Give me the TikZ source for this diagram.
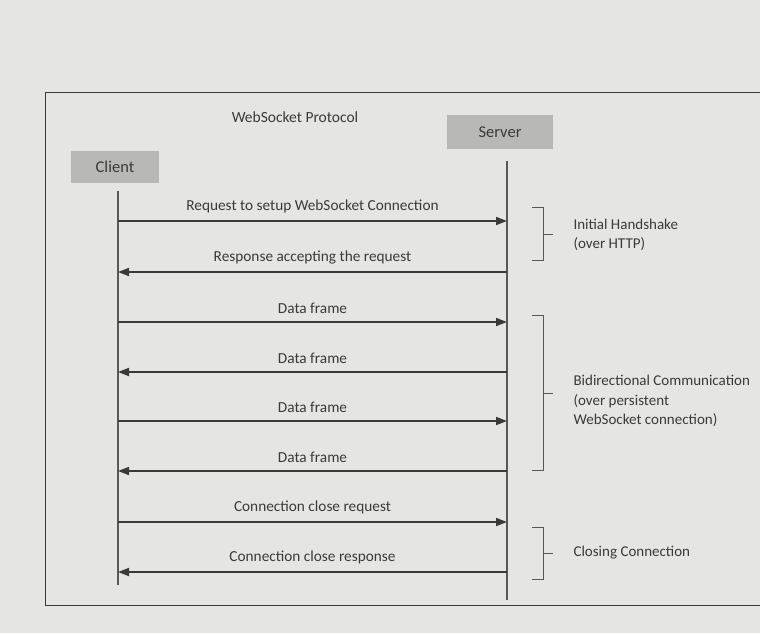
\documentclass[tikz,border=0pt]{standalone}
\usepackage{fontspec}
\setmainfont{Carlito}
\usepackage{xcolor}
\usepackage{tikz}
\usetikzlibrary{arrows.meta,positioning,calc}
\definecolor{paper}{RGB}{229,229,226}
\definecolor{ink}{RGB}{58,58,58}
\definecolor{boxgray}{RGB}{184,184,182}

\begin{document}
\begin{tikzpicture}[x=1pt, y=-1pt, every node/.style={font=\fontsize{15.3}{19}\selectfont, text=ink}, actor/.style={fill=boxgray, minimum width=88pt, minimum height=32pt, font=\fontsize{16.5}{19}\selectfont}, life/.style={draw=ink!85, line width=1.2pt}, msg/.style={-{Triangle[length=11pt,width=8pt]}, draw=ink, line width=1.7pt}, lbl/.style={above=4pt}, bracket/.style={draw=ink!85, line width=1pt}, note/.style={anchor=west, align=left, font=\fontsize{15}{19.5}\selectfont}]
\useasboundingbox (0,0) rectangle (760,633);
\fill[paper] (0,0) rectangle (760,633);
\draw[ink, line width=1pt] (760,92) -- (45,92) -- (45,605) -- (760,605);
\node[font=\fontsize{15.5}{19}\selectfont] (title) at (295,117) {WebSocket Protocol};
\node[actor] (client) at (115,167) {Client};
\node[actor, minimum width=106pt, minimum height=34pt] (server) at (500,132) {Server};
\coordinate (cend) at (118,585);
\coordinate (send) at (507,600);
\draw[life] (client.south -| cend) ++(0,8) coordinate (ctop) -- (cend);
\draw[life] (server.south -| send) ++(0,12) coordinate (stop) -- (send);
% messages
\coordinate (c1) at (118,221); \coordinate (s1) at (507,221);
\coordinate (c2) at (118,272); \coordinate (s2) at (507,272);
\coordinate (c3) at (118,322); \coordinate (s3) at (507,322);
\coordinate (c4) at (118,372); \coordinate (s4) at (507,372);
\coordinate (c5) at (118,421); \coordinate (s5) at (507,421);
\coordinate (c6) at (118,471); \coordinate (s6) at (507,471);
\coordinate (c7) at (118,522); \coordinate (s7) at (507,522);
\coordinate (c8) at (118,572); \coordinate (s8) at (507,572);
\draw[msg] (c1) -- node[lbl] (m1) {Request to setup WebSocket Connection} (s1);
\draw[msg] (s2) -- node[lbl] (m2) {Response accepting the request} (c2);
\draw[msg] (c3) -- node[lbl] (m3) {Data frame} (s3);
\draw[msg] (s4) -- node[lbl] (m4) {Data frame} (c4);
\draw[msg] (c5) -- node[lbl] (m5) {Data frame} (s5);
\draw[msg] (s6) -- node[lbl] (m6) {Data frame} (c6);
\draw[msg] (c7) -- node[lbl] (m7) {Connection close request} (s7);
\draw[msg] (s8) -- node[lbl] (m8) {Connection close response} (c8);
% phases
\draw[bracket] (532,207) -| (543,260) -- (532,260) (543,234) -- (553,234);
\draw[bracket] (532,315) -| (543,470) -- (532,470) (543,393) -- (553,393);
\draw[bracket] (532,527) -| (543,579) -- (532,579) (543,553) -- (553,553);
\node[note] (handshake) at (570,235) {Initial Handshake\\(over HTTP)};
\node[note] (bidir) at (570,401) {Bidirectional Communication\\(over persistent\\WebSocket connection)};
\node[note] (closing) at (570,553) {Closing Connection};
\end{tikzpicture}
\end{document}
